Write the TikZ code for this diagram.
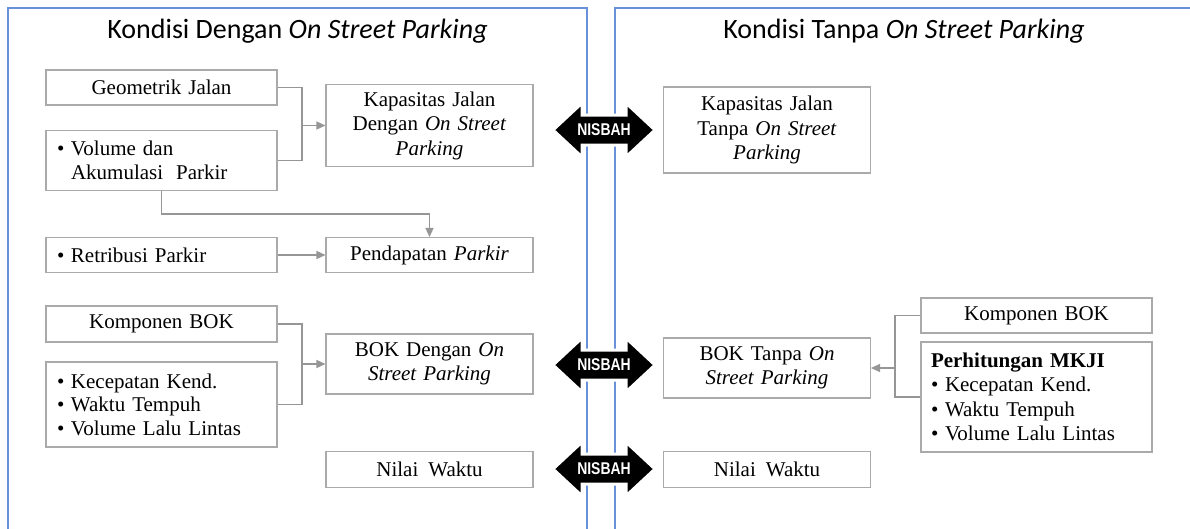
\documentclass[tikz,border=0pt]{standalone}
\usepackage{fontspec}
\usepackage{graphicx}
\setmainfont{Liberation Serif}
\newfontfamily\titlefont{Carlito}
\newfontfamily\nisfont{Liberation Sans}
\usetikzlibrary{arrows.meta}
\definecolor{panelblue}{RGB}{105,145,218}
\definecolor{boxgray}{RGB}{170,170,170}
\definecolor{linegray}{RGB}{150,150,150}
\tikzset{
  bx/.style={draw=boxgray, line width=1.1pt, inner ysep=0pt, inner xsep=4pt,
    align=center, font=\fontsize{21}{24.5}\selectfont},
  bxl/.style={bx, align=left, inner xsep=11pt},
  conn/.style={draw=linegray, line width=1.4pt},
  connar/.style={conn, -{Triangle[length=9pt,width=8pt]}},
  paneledge/.style={draw=panelblue, line width=1.3pt},
  ttl/.style={font=\titlefont\fontsize{28}{32}\selectfont, inner sep=0pt},
  nistext/.style={font=\nisfont\bfseries\fontsize{17}{19}\selectfont, text=white, inner sep=0pt},
  nisbah/.pic={
    \path[fill=black, draw=white, line width=3pt, line join=miter]
      (-51,0) -- (-22,-27) -- (-22,-15) -- (22,-15) -- (22,-27) -- (51,0)
      -- (22,27) -- (22,15) -- (-22,15) -- (-22,27) -- cycle;
    \node[nistext] (t) at (0,0) {\scalebox{0.82}[1]{NISBAH}};
  }
}
\newcommand{\bul}{\makebox[14pt][l]{\textbullet}}
\begin{document}
\begin{tikzpicture}[x=1pt,y=-1pt]
\useasboundingbox (0,0) rectangle (1190,528);
\fill[white] (0,0) rectangle (1190,528);
% panels
\draw[paneledge] (8,530) -- (8,8) -- (587,8) -- (587,530);
\draw[paneledge] (615,530) -- (615,8) -- (1192,8);
% titles
\node[ttl] (titleL) at (297.5,31) {Kondisi Dengan \textit{On Street Parking}};
\node[ttl] (titleR) at (904,31) {Kondisi Tanpa \textit{On Street Parking}};
% left column boxes
\node[bx, text width=223pt, minimum height=35pt] (geo) at (161.5,87.5) {Geometrik Jalan};
\node[bxl, text width=209pt, minimum height=60pt] (vol) at (161.5,160.5)
  {\bul Volume dan\\\hspace*{14pt}Akumulasi\hspace{6pt} Parkir};
\node[bx, text width=199pt, minimum height=82pt] (kapd) at (429.5,125.5)
  {Kapasitas Jalan\\Dengan \textit{On Street}\\\textit{Parking}};
\node[bxl, text width=209pt, minimum height=35pt] (ret) at (161.5,255) {\bul Retribusi Parkir};
\node[bx, text width=199pt, minimum height=35pt] (pend) at (429.5,255) {Pendapatan \textit{Parkir}};
\node[bx, text width=223pt, minimum height=36pt] (kbl) at (161.5,324) {Komponen BOK};
\node[bxl, text width=209pt, minimum height=85pt, font=\fontsize{21}{23.5}\selectfont] (kec) at (161.5,404.5)
  {\bul Kecepatan Kend.\\\bul Waktu Tempuh\\\bul Volume Lalu Lintas};
\node[bx, text width=199pt, minimum height=60pt] (bokd) at (429.5,364)
  {BOK Dengan \textit{On}\\\textit{Street Parking}};
\node[bx, text width=199pt, minimum height=36pt] (nwl) at (429.5,469.5) {Nilai\hspace{3pt} Waktu};
% right column boxes
\node[bx, text width=199pt, minimum height=86pt] (kapt) at (767,130)
  {Kapasitas Jalan\\Tanpa \textit{On Street}\\\textit{Parking}};
\node[bx, text width=199pt, minimum height=60pt] (bokt) at (767,368)
  {BOK Tanpa \textit{On}\\\textit{Street Parking}};
\node[bx, text width=199pt, minimum height=36pt] (nwr) at (767,469.5) {Nilai\hspace{3pt} Waktu};
\node[bx, text width=223pt, minimum height=35pt] (kbr) at (1036.5,315.5) {Komponen BOK};
\node[bxl, text width=211pt, inner xsep=10pt, minimum height=110pt] (mkji) at (1036.5,397)
  {\textbf{Perhitungan MKJI}\\\bul Kecepatan Kend.\\\bul Waktu Tempuh\\\bul Volume Lalu Lintas};
% connectors left
\coordinate (b1) at (302,0);
\draw[conn] (geo.east) -- (geo.east -| b1) -- (vol.east -| b1) -- (vol.east);
\draw[connar] (kapd.west -| b1) -- (kapd.west);
\coordinate (b2) at (0,214);
\draw[connar] (vol.south) -- (vol.south |- b2) -- (pend.north |- b2) -- (pend.north);
\draw[connar] (ret.east) -- (pend.west);
\draw[conn] (kbl.east) -- (kbl.east -| b1) -- (kec.east -| b1) -- (kec.east);
\draw[connar] (bokd.west -| b1) -- (bokd.west);
% connectors right
\coordinate (b3) at (895,0);
\draw[conn] (kbr.west) -- (kbr.west -| b3) -- (mkji.west -| b3) -- (mkji.west);
\draw[connar] (bokt.east -| b3) -- (bokt.east);
% nisbah arrows
\pic (n1) at (604,130) {nisbah};
\pic (n2) at (604,365) {nisbah};
\pic (n3) at (604,469) {nisbah};
\end{tikzpicture}
\end{document}
